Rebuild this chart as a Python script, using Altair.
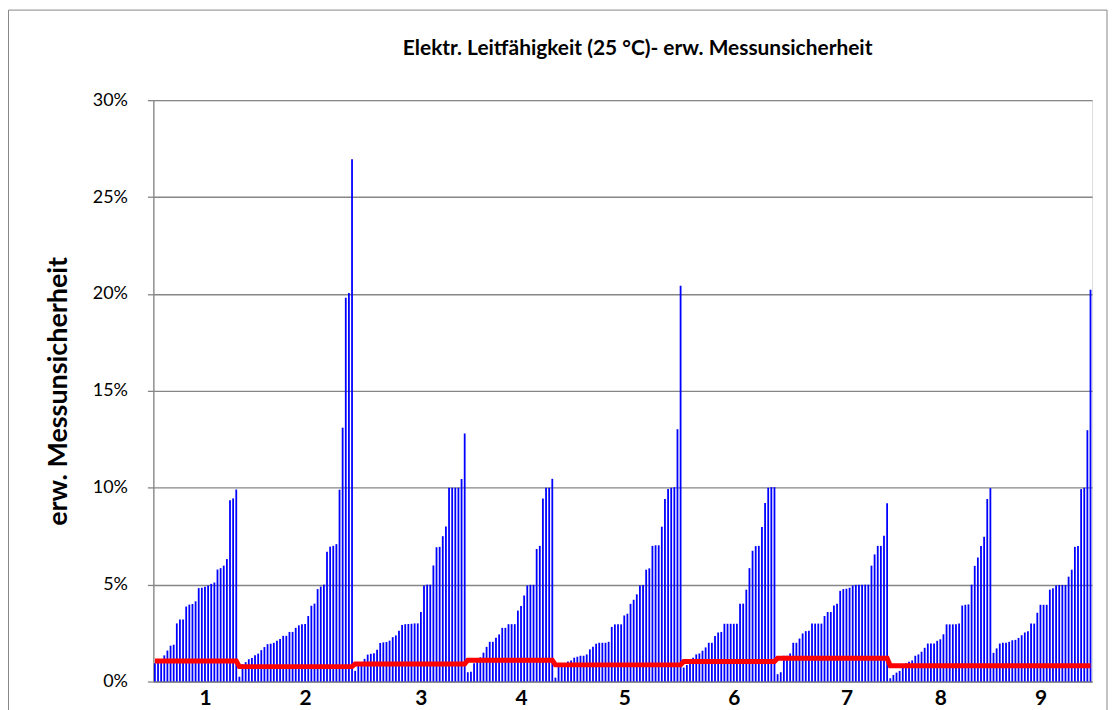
import altair as alt
import pandas as pd

# ---- data (values in %) ----
g1 = [0.95, 1.0, 1.05, 1.35, 1.6, 1.85, 1.9, 3.0, 3.2, 3.2, 3.87, 3.97, 4.0, 4.14,
      4.82, 4.84, 4.89, 4.96, 5.04, 5.11, 5.78, 5.85, 5.98, 6.32, 9.35, 9.45, 9.91]
g2 = [0.25, 0.9, 1.0, 1.15, 1.22, 1.36, 1.44, 1.62, 1.78, 1.93, 1.95, 2.0, 2.1, 2.19,
      2.36, 2.36, 2.56, 2.56, 2.77, 2.9, 2.96, 2.97, 3.38, 3.91, 4.02, 4.77, 4.9, 5.0,
      6.7, 6.96, 7.0, 7.09, 9.9, 13.1, 19.8, 20.05, 26.95]
g3 = [0.55, 0.8, 0.94, 1.17, 1.39, 1.43, 1.46, 1.64, 1.99, 2.02, 2.04, 2.11, 2.29, 2.38,
      2.62, 2.92, 2.96, 2.97, 2.98, 3.0, 3.0, 3.59, 4.96, 5.0, 5.0, 5.99, 6.93, 6.95,
      7.5, 8.0, 10.0, 10.0, 10.0, 10.0, 10.45, 12.8]
g4 = [0.48, 0.51, 0.94, 1.11, 1.25, 1.49, 1.79, 2.05, 2.05, 2.26, 2.43, 2.77, 2.77, 2.96,
      2.96, 2.96, 3.66, 3.9, 4.44, 4.96, 4.99, 4.99, 6.84, 7.0, 9.44, 10.0, 10.0, 10.46]
g5 = [0.2, 0.77, 0.85, 0.94, 1.03, 1.08, 1.23, 1.28, 1.33, 1.33, 1.4, 1.66, 1.8, 1.95,
      2.0, 2.0, 2.0, 2.05, 2.82, 2.95, 2.95, 2.95, 3.41, 3.5, 4.01, 4.22, 4.5, 4.95,
      4.98, 5.77, 5.84, 7.0, 7.03, 7.03, 7.99, 9.42, 9.93, 10.0, 10.03, 13.02, 20.43]
g6 = [0.72, 0.85, 1.05, 1.23, 1.4, 1.45, 1.59, 1.76, 2.0, 2.0, 2.35, 2.53, 2.56, 2.98,
      2.98, 2.98, 2.98, 2.98, 4.02, 4.02, 4.74, 5.85, 6.75, 6.99, 7.0, 7.98, 9.21, 10.0,
      10.03, 10.03]
g7 = [0.38, 0.48, 1.33, 1.33, 1.45, 2.0, 2.0, 2.22, 2.48, 2.6, 2.62, 2.99, 2.99, 2.99,
      2.99, 3.38, 3.59, 3.59, 3.93, 4.02, 4.68, 4.77, 4.79, 4.84, 4.96, 4.99, 5.0, 5.0,
      5.0, 5.0, 5.98, 6.56, 7.0, 7.0, 7.52, 9.2]
g8 = [0.17, 0.34, 0.46, 0.55, 0.7, 0.94, 1.02, 1.09, 1.33, 1.4, 1.54, 1.74, 1.96, 1.96,
      1.96, 2.1, 2.18, 2.44, 2.95, 2.95, 2.95, 2.95, 3.0, 3.92, 3.96, 3.98, 5.0, 5.97,
      6.4, 7.0, 7.47, 9.42, 9.98]
g9 = [1.48, 1.71, 1.96, 2.0, 2.0, 2.05, 2.13, 2.15, 2.25, 2.39, 2.53, 2.59, 2.99, 2.99,
      3.55, 3.96, 3.96, 3.96, 4.74, 4.81, 4.95, 4.98, 4.98, 4.98, 5.41, 5.77, 6.95, 7.0,
      9.93, 10.0, 12.97, 20.22]
groups = [g1, g2, g3, g4, g5, g6, g7, g8, g9]

# red line level per group (%)
red_level = [1.06, 0.77, 0.91, 1.10, 0.86, 1.03, 1.20, 0.82, 0.82]

# category axis labels and the sample index where each is printed
tick_labels = ["1", "2", "3", "4", "5", "6", "7", "8", "9"]
tick_at = [16, 48, 85, 117, 150, 185, 221, 251, 283]

y_ticks = [0, 5, 10, 15, 20, 25, 30]

rows = []
k = 0
for gi, vals in enumerate(groups):
    for v in vals:
        rows.append({"i": k, "u": v, "lvl": red_level[gi], "zero": 0})
        k += 1
df = pd.DataFrame(rows)
n = len(df)

FONT = "Lato"
GRID = "#868686"

label_expr = "[" + ",".join("'%s'" % t for t in tick_labels) + "][indexof([" + \
    ",".join(str(t) for t in tick_at) + "], datum.value)]"

x_enc = alt.X(
    "i:Q",
    scale=alt.Scale(domain=[-0.5, n - 0.5], nice=False, zero=False),
    axis=alt.Axis(values=tick_at, labelExpr=label_expr, title=None, grid=False,
                  ticks=False, domainColor=GRID, domainWidth=1.3,
                  labelFont=FONT, labelFontWeight="bold", labelFontSize=21,
                  labelColor="#000000", labelPadding=6, labelFlush=False),
)
y_enc = alt.Y(
    "u:Q",
    scale=alt.Scale(domain=[0, 30], nice=False),
    axis=alt.Axis(values=y_ticks, labelExpr="datum.value + '%'",
                  title="erw. Messunsicherheit", titleFont=FONT, titleFontSize=27,
                  titleFontWeight="bold", titleColor="#000000", titlePadding=20,
                  labelFont=FONT, labelFontSize=18, labelColor="#000000",
                  labelPadding=20, tickSize=6, tickColor=GRID, tickWidth=1.3,
                  domainColor=GRID, domainWidth=1.3, gridColor=GRID, gridWidth=1.4),
)

bars = alt.Chart(df).mark_rule(color="#0000FF", strokeWidth=1.8).encode(
    x=x_enc, y=y_enc, y2=alt.Y2("zero:Q")
)

line = alt.Chart(df).mark_line(color="#FF0000", strokeWidth=5).encode(
    x=alt.X("i:Q"), y=alt.Y("lvl:Q")
)

frame = alt.Chart(pd.DataFrame({"f": [0]})).mark_rect(
    fillOpacity=0, stroke=GRID, strokeWidth=1
).encode(x=alt.value(-145.5), x2=alt.value(958), y=alt.value(-90.5), y2=alt.value(640))

chart = alt.layer(bars, line, frame).properties(
    width=943,
    height=584,
    padding={"left": 146, "top": 91, "right": 17, "bottom": 27},
    autosize=alt.AutoSizeParams(type="none"),
    title=alt.TitleParams(
        "Elektr. Leitfähigkeit (25 °C)- erw. Messunsicherheit",
        font=FONT, fontSize=21, fontWeight="bold", color="#000000",
        offset=-50, dx=15, anchor="middle",
    ),
).configure_view(stroke=None).configure(background="white")

chart.save("out.html", embed_options={"renderer": "svg", "actions": False})
